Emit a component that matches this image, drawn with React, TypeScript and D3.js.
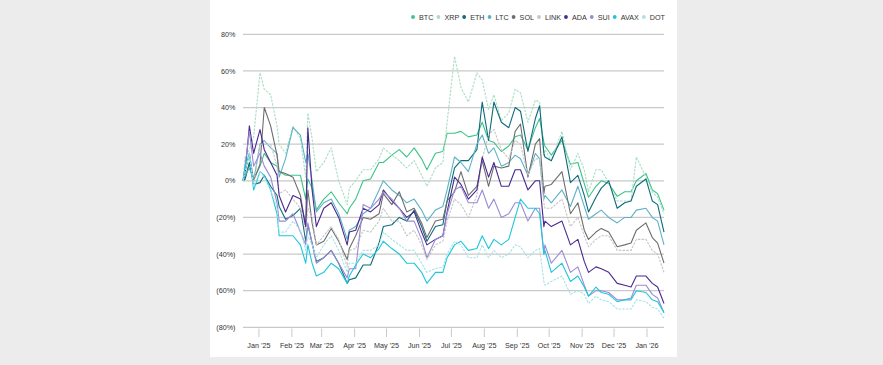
import React, { useMemo } from "react";
import * as d3 from "d3";

const dates = [
  "2024-12-31","2025-01-02","2025-01-06","2025-01-10","2025-01-16","2025-01-20","2025-01-26","2025-02-01","2025-02-03","2025-02-09",
  "2025-02-16","2025-02-23","2025-02-28","2025-03-02","2025-03-06","2025-03-10","2025-03-17","2025-03-24","2025-03-31","2025-04-08",
  "2025-04-10","2025-04-16","2025-04-23","2025-04-30","2025-05-08","2025-05-12","2025-05-20","2025-05-27","2025-06-03","2025-06-10",
  "2025-06-17","2025-06-22","2025-06-30","2025-07-07","2025-07-11","2025-07-18","2025-07-24","2025-07-31","2025-08-08","2025-08-13",
  "2025-08-19","2025-08-24","2025-08-31","2025-09-07","2025-09-13","2025-09-18","2025-09-25","2025-10-02","2025-10-06","2025-10-10",
  "2025-10-11","2025-10-17","2025-10-27","2025-11-04","2025-11-11","2025-11-17","2025-11-21","2025-11-28","2025-12-03","2025-12-10",
  "2025-12-18","2025-12-25","2025-12-31","2026-01-05","2026-01-14","2026-01-20","2026-01-25","2026-01-31",
];

const BTC = [0,1,9,1,8,15,10,8,5,3,3,3,-10,1,-4,-16,-10,-6,-12,-18,-15,-10,0,1,10,10,14,17,13,18,12,6,15,16,26,26,27,24,25,32,22,21,16,19,24,25,17,29,34,21,19,14,22,9,10,-1.5,-9,-3,0,-1.5,-8.5,-6,-6,0,4,-5,-7,-16];
const XRP = [0,13,17,24,59,50,47,30,20,15,30,23,2,37,23,5,10,18,0,-13,-4,0,6,6,12,18,14,11,7,11,3,-3,7,10,32,68,51,43,59,55,39,47,33,37,50,48,32,44,43,13,17,11,27,6,15,6,-6,6,6,-1,-11,-11,-11,13,2,-6,-9,-18];
const ETH = [0,1,10,-2,-1,3,-3,-8,-14,-21,-19,-15,-33,-24,-34,-44,-42,-38,-45,-56,-54,-53,-46,-46,-34,-25,-24,-20,-22,-16,-25,-33,-25,-24,-11,7,11,11,17,43,22,43,32,29,40,38,16,34,41,15,13,11,24,-1,3,-8,-17,-9,-4,0,-15,-12,-11,-3,1,-11,-13,-28];
const LTC = [0,3,7,0,20,22,18,15,2,12,29,25,10,15,0,-17,-12,-10,-18,-32,-27,-25,-18,-15,-5,0,-5,-8,-12,-10,-16,-22,-16,-14,-5,13,10,5,20,25,15,18,8,10,14,12,3,15,12,-10,-8,-12,-5,-14,-3,-14,-21,-18,-16,-20,-23,-20,-20,-16,-15,-20,-22,-35];
const SOL = [0,5,15,0,9,40,30,14,5,4,2,-8,-25,-5,-23,-35,-33,-26,-33,-43,-37,-30,-20,-21,-18,-7,-13,-6,-17,-15,-23,-31,-22,-21,-11,-6,5,-8,-3,11,-3,8,7,8,27,31,2,20,23,-7,-3,-2,5,-18,-12,-27,-32,-28,-26,-28,-36,-35,-34,-27,-23,-31,-34,-45];
const LINK = [0,5,15,-2,20,20,20,8,-7,-5,-10,-15,-27,-15,-20,-35,-30,-25,-32,-47,-38,-37,-27,-28,-22,-15,-22,-22,-30,-27,-35,-43,-35,-33,-22,-10,-13,-20,-8,12,25,28,17,12,22,20,3,12,12,-12,-15,-15,-10,-25,-20,-30,-36,-32,-30,-30,-38,-38,-38,-32,-32,-38,-40,-50];
const ADA = [0,5,30,15,28,17,10,3,-8,-17,-8,-10,-25,29,-5,-25,-15,-12,-20,-35,-28,-27,-15,-17,-13,-5,-11,-15,-20,-17,-28,-35,-32,-30,-17,2,-2,-10,-5,13,2,10,-3,-3,6,6,-5,0,0,-25,-22,-25,-22,-35,-32,-44,-50,-47,-48,-50,-56,-57,-58,-52,-52,-56,-58,-67];
const SUI = [0,8,27,8,15,8,2,-12,-22,-22,-18,-28,-35,-23,-34,-45,-42,-38,-45,-53,-48,-48,-13,-15,-10,-6,-10,-15,-22,-22,-32,-42,-32,-30,-18,-5,-3,-12,-12,-5,-15,-10,-20,-18,-12,-12,-22,-15,-15,-40,-35,-45,-38,-50,-47,-57,-63,-60,-60,-61,-65,-65,-64,-57,-57,-62,-64,-72];
const AVAX = [0,8,15,-5,5,3,-5,-18,-30,-30,-30,-35,-45,-35,-45,-52,-50,-45,-48,-56,-52,-46,-40,-42,-37,-33,-37,-40,-45,-45,-50,-56,-50,-50,-42,-35,-33,-38,-37,-30,-37,-32,-35,-32,-20,-10,-15,-15,-18,-40,-38,-50,-45,-55,-52,-58,-63,-58,-61,-62,-66,-65,-65,-60,-61,-65,-66,-72];
const DOT = [0,5,15,-3,5,2,-5,-15,-28,-28,-22,-27,-38,-30,-35,-42,-35,-30,-38,-50,-45,-45,-38,-38,-35,-28,-32,-35,-38,-38,-45,-50,-48,-47,-40,-33,-35,-42,-42,-35,-42,-38,-42,-40,-35,-36,-42,-38,-37,-55,-57,-55,-52,-62,-60,-62,-67,-63,-65,-66,-70,-70,-70,-65,-66,-69,-70,-75];

const seriesNames = ["BTC","XRP","ETH","LTC","SOL","LINK","ADA","SUI","AVAX","DOT"];
const seriesValues = [BTC, XRP, ETH, LTC, SOL, LINK, ADA, SUI, AVAX, DOT];
const seriesColors = ["#3cc488","#a9dfc3","#0d6b7c","#5eb2c6","#6d6d6f","#c6c6c8","#4a2990","#9a8bd4","#1ec6db","#a8e2e8"];
const seriesDashed = [false,true,false,false,false,true,false,false,false,true];

const yTicks = [80,60,40,20,0,-20,-40,-60,-80];
const monthTicks = [
  "2025-01-15","2025-02-15","2025-03-15","2025-04-15","2025-05-15","2025-06-15","2025-07-15",
  "2025-08-15","2025-09-15","2025-10-15","2025-11-15","2025-12-15","2026-01-15",
];

const FONT = "'Liberation Sans', Arial, Helvetica, sans-serif";

function fmtY(v: number) {
  return v < 0 ? `(${Math.abs(v)}%)` : `${v}%`;
}

function textWidth(t: string, size: number) {
  if (typeof document === "undefined") return t.length * size * 0.6;
  const c = document.createElement("canvas").getContext("2d");
  if (!c) return t.length * size * 0.6;
  c.font = `${size}px ${FONT}`;
  return c.measureText(t).width;
}

export default function App() {
  const W = 883, H = 365;
  const parse = d3.utcParse("%Y-%m-%d");
  const x = d3.scaleUtc()
    .domain([parse("2024-12-31")!, parse("2026-01-31")!])
    .range([243, 664]);
  const y = d3.scaleLinear().domain([-80, 80]).range([327.3, 34.3]);
  const ds = dates.map((d) => parse(d)!);

  const line = d3.line<number>()
    .x((_, i) => x(ds[i]))
    .y((v) => y(v));

  const legend = useMemo(() => {
    const size = 7.2;
    const items: { name: string; color: string; cx: number; tx: number }[] = [];
    let right = 665;
    const rev = [...seriesNames.keys()].reverse();
    for (const i of rev) {
      const w = textWidth(seriesNames[i], size);
      const tx = right - w;
      const cx = tx - 6;
      items.unshift({ name: seriesNames[i], color: seriesColors[i], cx, tx });
      right = cx - 5;
    }
    return items;
  }, []);

  const fmtMonth = (d: Date) => `${d3.utcFormat("%b")(d)} \u2019${d3.utcFormat("%y")(d)}`;

  return (
    <svg width={W} height={H} style={{ position: "absolute", left: 0, top: 0, display: "block" }}
      fontFamily={FONT}>
      <rect x={0} y={0} width={W} height={H} fill="#ececec" />
      <rect x={210} y={0} width={467} height={357} fill="#ffffff" />

      {yTicks.map((t) => (
        <g key={t}>
          <line x1={243} x2={664} y1={y(t)} y2={y(t)} stroke="#c9c9c9" strokeWidth={1.3} />
          <text x={235.5} y={y(t) + 2.6} textAnchor="end" fontSize={7.2} fill="#333">{fmtY(t)}</text>
        </g>
      ))}

      {monthTicks.map((m) => {
        const d = parse(m)!;
        const xx = x(d);
        return (
          <g key={m}>
            <line x1={xx} x2={xx} y1={328.5} y2={337} stroke="#c9c9c9" strokeWidth={1} />
            <text x={xx} y={347.5} textAnchor="middle" fontSize={7.2} fill="#333">{fmtMonth(d)}</text>
          </g>
        );
      })}

      {seriesValues.map((vals, i) => (
        <path key={seriesNames[i]} d={line(vals) || ""} fill="none"
          stroke={seriesColors[i]} strokeWidth={1.1}
          strokeDasharray={seriesDashed[i] ? "2.5 1.2" : undefined}
          strokeLinejoin="round" />
      ))}

      {legend.map((it) => (
        <g key={it.name}>
          <circle cx={it.cx} cy={17} r={1.9} fill={it.color} />
          <text x={it.tx} y={19.6} fontSize={7.2} fill="#333">{it.name}</text>
        </g>
      ))}
    </svg>
  );
}
